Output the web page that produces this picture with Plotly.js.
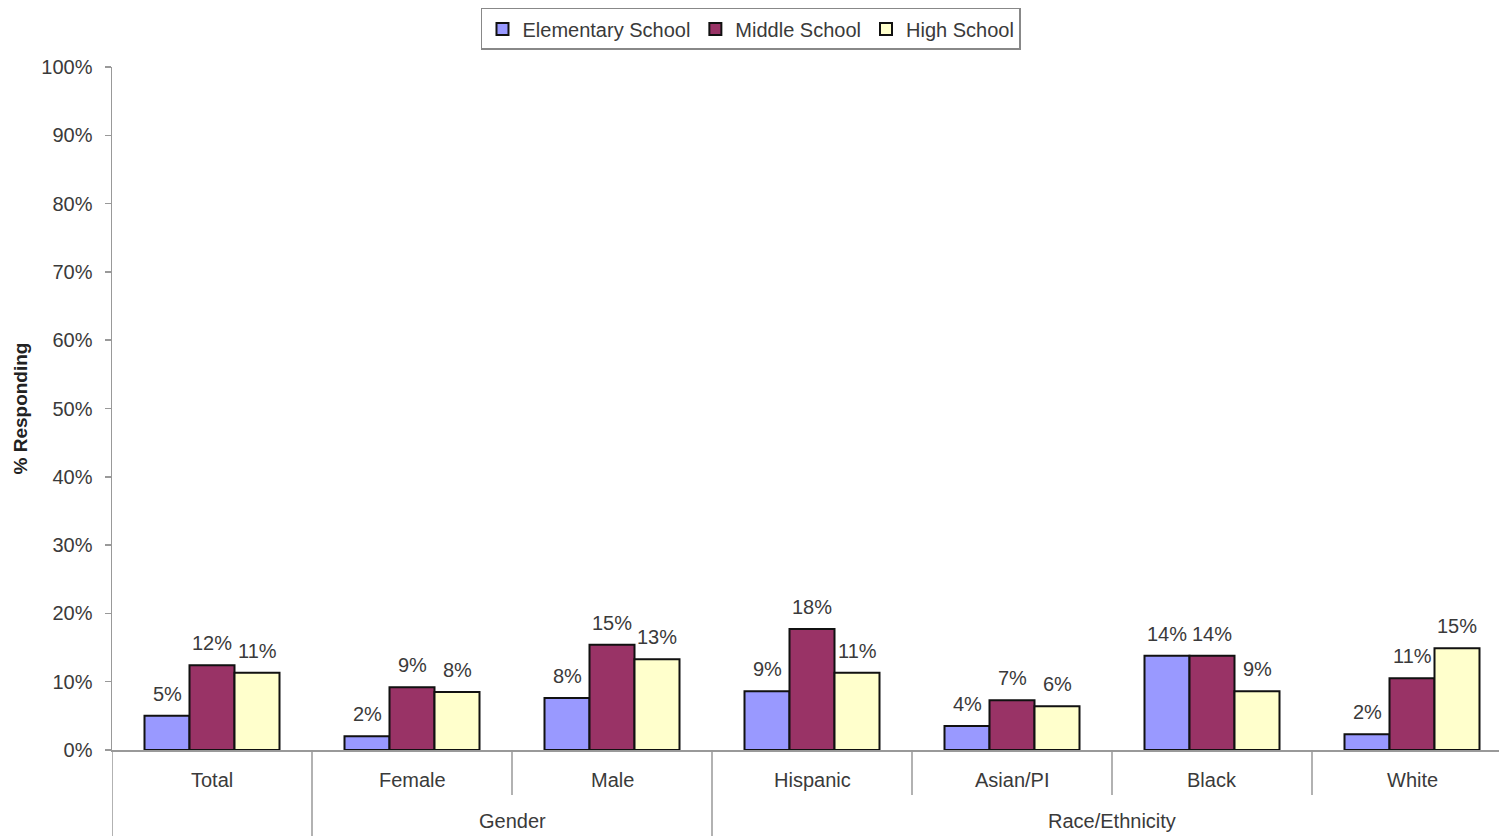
<!DOCTYPE html>
<html>
<head>
<meta charset="utf-8">
<script src="https://cdn.plot.ly/plotly-3.0.1.min.js"></script>
<style>html,body{margin:0;padding:0;background:#fff;}#chart{width:1499px;height:836px;}</style>
</head>
<body>
<div id="chart"></div>
<script>
var categories = ["Total", "Female", "Male", "Hispanic", "Asian/PI", "Black", "White"];
var groupLabels = ["Gender", "Race/Ethnicity"];
var groupCenters = [1.5, 4.5];
var seriesNames = ["Elementary School", "Middle School", "High School"];
var elementary = [5.0, 2.0, 7.6, 8.6, 3.5, 13.8, 2.3];
var middle = [12.4, 9.2, 15.4, 17.7, 7.3, 13.8, 10.5];
var high = [11.3, 8.5, 13.3, 11.3, 6.4, 8.6, 14.9];
var elementaryLabels = ["5%", "2%", "8%", "9%", "4%", "14%", "2%"];
var middleLabels = ["12%", "9%", "15%", "18%", "7%", "14%", "11%"];
var highLabels = ["11%", "8%", "13%", "11%", "6%", "9%", "15%"];
var yTicks = [0, 10, 20, 30, 40, 50, 60, 70, 80, 90, 100];
var yTickLabels = ["0%", "10%", "20%", "30%", "40%", "50%", "60%", "70%", "80%", "90%", "100%"];
var longSeparators = [-0.5, 0.5, 2.5];
var shortSeparators = [1.5, 3.5, 4.5, 5.5];

var FONT = "Liberation Sans, Arial, sans-serif";
var TXT = "#3a3a3a";
var colors = ["#9999ff", "#993366", "#ffffcc"];
var vals = [elementary, middle, high];
var labs = [elementaryLabels, middleLabels, highLabels];
var xs = categories.map(function(c, i){ return i; });

var traces = seriesNames.map(function(name, k){
  return {
    type: "bar", name: name, x: xs, y: vals[k],
    marker: {color: colors[k], line: {color: "#111", width: 2}},
    hoverinfo: "none"
  };
});

var shapes = [];
longSeparators.forEach(function(x){
  shapes.push({type: "line", xref: "x", yref: "paper", x0: x, x1: x, y0: 0, y1: -0.13, line: {color: "#999", width: 1.5}});
});
shortSeparators.forEach(function(x){
  shapes.push({type: "line", xref: "x", yref: "paper", x0: x, x1: x, y0: 0, y1: -0.066, line: {color: "#999", width: 1.5}});
});

var annotations = [];
var barShift = [-45, 0, 45];
vals.forEach(function(series, k){
  series.forEach(function(v, i){
    annotations.push({xref: "x", yref: "y", x: xs[i], y: v, text: labs[k][i], showarrow: false,
      xshift: barShift[k], yshift: 9, yanchor: "bottom", xanchor: "center",
      font: {family: FONT, size: 20, color: TXT}});
  });
});
categories.forEach(function(c, i){
  annotations.push({xref: "x", yref: "paper", x: i, y: -0.044, text: c, showarrow: false, yanchor: "middle", font: {family: FONT, size: 20, color: TXT}});
});
groupLabels.forEach(function(g, i){
  annotations.push({xref: "x", yref: "paper", x: groupCenters[i], y: -0.104, text: g, showarrow: false, yanchor: "middle", font: {family: FONT, size: 20, color: TXT}});
});

var layout = {
  width: 1499, height: 836,
  margin: {l: 112, r: 0, t: 67, b: 86, pad: 0},
  paper_bgcolor: "#fff", plot_bgcolor: "#fff",
  barmode: "group", bargap: 0.325, bargroupgap: 0,
  showlegend: true,
  legend: {orientation: "h", x: 0.4607, xanchor: "center", y: 1.0864, yanchor: "top",
           bgcolor: "#fff", bordercolor: "#888", borderwidth: 1.5,
           font: {family: FONT, size: 20, color: TXT}, itemwidth: 30, tracegroupgap: 0},
  xaxis: {range: [-0.5, 6.435], showticklabels: false, ticks: "", showgrid: false, zeroline: false,
          showline: true, linecolor: "#999", linewidth: 1.5, fixedrange: true},
  yaxis: {range: [0, 100], tickvals: yTicks, ticktext: yTickLabels, ticks: "outside", ticklen: 6,
          tickcolor: "#999", tickwidth: 1.5, showgrid: false, zeroline: false, showline: true,
          ticklabelstandoff: 8,
          linecolor: "#999", linewidth: 1.5, tickfont: {family: FONT, size: 20, color: TXT},
          title: {text: "<b>% Responding</b>", standoff: 8, font: {family: FONT, size: 19, color: "#222"}}},
  shapes: shapes, annotations: annotations
};

Plotly.newPlot("chart", traces, layout, {displayModeBar: false, staticPlot: true});
</script>
</body>
</html>
